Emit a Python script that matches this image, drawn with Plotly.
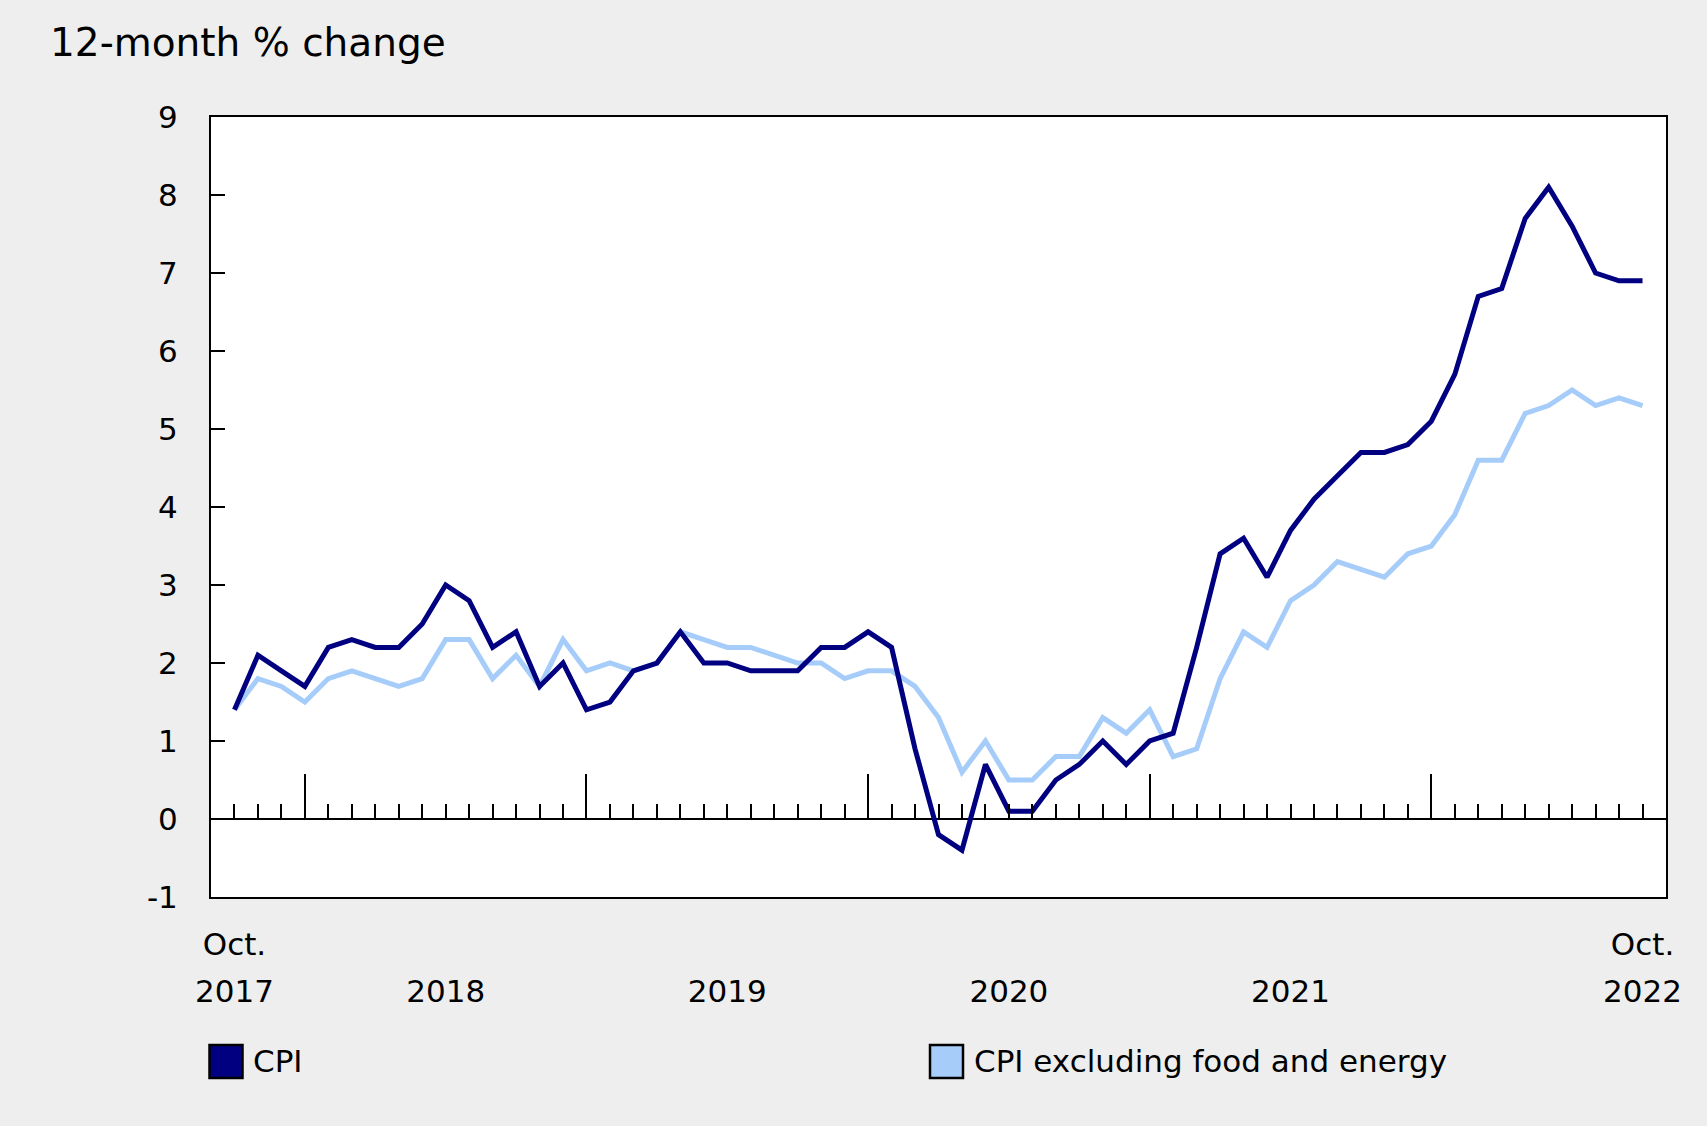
import plotly.graph_objects as go

# ---------------- data ----------------
months = ["2017-10", "2017-11", "2017-12",
          "2018-01", "2018-02", "2018-03", "2018-04", "2018-05", "2018-06",
          "2018-07", "2018-08", "2018-09", "2018-10", "2018-11", "2018-12",
          "2019-01", "2019-02", "2019-03", "2019-04", "2019-05", "2019-06",
          "2019-07", "2019-08", "2019-09", "2019-10", "2019-11", "2019-12",
          "2020-01", "2020-02", "2020-03", "2020-04", "2020-05", "2020-06",
          "2020-07", "2020-08", "2020-09", "2020-10", "2020-11", "2020-12",
          "2021-01", "2021-02", "2021-03", "2021-04", "2021-05", "2021-06",
          "2021-07", "2021-08", "2021-09", "2021-10", "2021-11", "2021-12",
          "2022-01", "2022-02", "2022-03", "2022-04", "2022-05", "2022-06",
          "2022-07", "2022-08", "2022-09", "2022-10"]

cpi = [1.4, 2.1, 1.9,
       1.7, 2.2, 2.3, 2.2, 2.2, 2.5, 3.0, 2.8, 2.2, 2.4, 1.7, 2.0,
       1.4, 1.5, 1.9, 2.0, 2.4, 2.0, 2.0, 1.9, 1.9, 1.9, 2.2, 2.2,
       2.4, 2.2, 0.9, -0.2, -0.4, 0.7, 0.1, 0.1, 0.5, 0.7, 1.0, 0.7,
       1.0, 1.1, 2.2, 3.4, 3.6, 3.1, 3.7, 4.1, 4.4, 4.7, 4.7, 4.8,
       5.1, 5.7, 6.7, 6.8, 7.7, 8.1, 7.6, 7.0, 6.9, 6.9]

core = [1.4, 1.8, 1.7,
        1.5, 1.8, 1.9, 1.8, 1.7, 1.8, 2.3, 2.3, 1.8, 2.1, 1.7, 2.3,
        1.9, 2.0, 1.9, 2.0, 2.4, 2.3, 2.2, 2.2, 2.1, 2.0, 2.0, 1.8,
        1.9, 1.9, 1.7, 1.3, 0.6, 1.0, 0.5, 0.5, 0.8, 0.8, 1.3, 1.1,
        1.4, 0.8, 0.9, 1.8, 2.4, 2.2, 2.8, 3.0, 3.3, 3.2, 3.1, 3.4,
        3.5, 3.9, 4.6, 4.6, 5.2, 5.3, 5.5, 5.3, 5.4, 5.3]

series_names = ["CPI", "CPI excluding food and energy"]
series_colors = ["#000080", "#A6CCFA"]

y_tick_vals = [-1, 0, 1, 2, 3, 4, 5, 6, 7, 8, 9]
y_tick_text = ["-1", "0", "1", "2", "3", "4", "5", "6", "7", "8", "9"]
year_label_months = ["2017-10", "2018-07", "2019-07", "2020-07", "2021-07", "2022-10"]
year_label_text = ["2017", "2018", "2019", "2020", "2021", "2022"]
month_label_months = ["2017-10", "2022-10"]
month_label_text = ["Oct.", "Oct."]
january_months = [m for m in months if m.endswith("-01")]

# ---------------- geometry ----------------
W, H = 1707, 1126
L, R, T, B = 211, 41, 117, 229
FONT = "DejaVu Sans"
BG = "#EEEEEE"

idx = {m: i for i, m in enumerate(months)}
x = list(range(len(months)))


def pxx(p):
    return (p - L) / (W - L - R)


def pxy(p):
    return (H - B - p) / (H - T - B)


fig = go.Figure()
fig.add_trace(go.Scatter(x=x, y=core, mode="lines", name=series_names[1],
                         line=dict(color=series_colors[1], width=5),
                         showlegend=False, hoverinfo="skip"))
fig.add_trace(go.Scatter(x=x, y=cpi, mode="lines", name=series_names[0],
                         line=dict(color=series_colors[0], width=5),
                         showlegend=False, hoverinfo="skip"))
# helper (empty) traces so overlay axes are rendered
for ax in ["x2", "x3", "x4"]:
    fig.add_trace(go.Scatter(x=[0], y=[None], xaxis=ax, yaxis="y",
                             showlegend=False, hoverinfo="skip"))

xr = [-1, len(months)]
zero_pos = (0 - (-1)) / (9 - (-1))

fig.update_layout(
    width=W, height=H,
    margin=dict(l=L, r=R, t=T, b=B, autoexpand=False),
    paper_bgcolor=BG, plot_bgcolor="white",
    font=dict(family=FONT, size=31, color="black"),
    showlegend=False,
    xaxis=dict(range=xr, showgrid=False, zeroline=False,
               showline=True, linecolor="black", linewidth=2, mirror=True,
               tickmode="array", tickvals=[idx[m] for m in month_label_months],
               ticktext=month_label_text, ticks="", ticklabelstandoff=19,
               tickfont=dict(size=31, color="black")),
    xaxis3=dict(range=xr, overlaying="x", anchor="free", position=0,
                showgrid=False, zeroline=False, showline=False,
                tickmode="array", tickvals=[idx[m] for m in year_label_months],
                ticktext=year_label_text, ticks="", ticklabelstandoff=73,
                tickfont=dict(size=31, color="black")),
    xaxis2=dict(range=xr, overlaying="x", anchor="free", position=zero_pos,
                showgrid=False, zeroline=False, showline=False,
                tickmode="array", tickvals=x, ticks="inside", ticklen=15,
                tickwidth=2, tickcolor="black", showticklabels=False),
    xaxis4=dict(range=xr, overlaying="x", anchor="free", position=zero_pos,
                showgrid=False, zeroline=False, showline=False,
                tickmode="array", tickvals=[idx[m] for m in january_months],
                ticks="inside", ticklen=45, tickwidth=2, tickcolor="black",
                showticklabels=False),
    yaxis=dict(range=[-1, 9], showgrid=False,
               zeroline=True, zerolinecolor="black", zerolinewidth=2,
               showline=True, linecolor="black", linewidth=2, mirror=True,
               tickmode="array", tickvals=y_tick_vals, ticktext=y_tick_text,
               ticks="inside", ticklen=14, tickwidth=2, tickcolor="black",
               ticklabelstandoff=25, tickfont=dict(size=31, color="black")),
)

annotations = [
    dict(text="12-month % change", x=pxx(48), y=pxy(43), xref="paper", yref="paper",
         xanchor="left", yanchor="middle", showarrow=False,
         font=dict(family=FONT, size=39, color="black")),
]
shapes = []
legend_boxes = [(209.5, 242.5, 251), (930, 963, 972)]
for (bx0, bx1, tx), name, col in zip(legend_boxes, series_names, series_colors):
    shapes.append(dict(type="rect", xref="paper", yref="paper",
                       x0=pxx(bx0), x1=pxx(bx1), y0=pxy(1078), y1=pxy(1045),
                       fillcolor=col, line=dict(color="black", width=2.5)))
    annotations.append(dict(text=name, x=pxx(tx), y=pxy(1061), xref="paper", yref="paper",
                            xanchor="left", yanchor="middle", showarrow=False,
                            font=dict(family=FONT, size=31, color="black")))

fig.update_layout(annotations=annotations, shapes=shapes)
fig.write_html("out.html",
               config={"displayModeBar": False},
               post_script="document.body.style.margin='0';document.body.style.background='#EEEEEE';")
